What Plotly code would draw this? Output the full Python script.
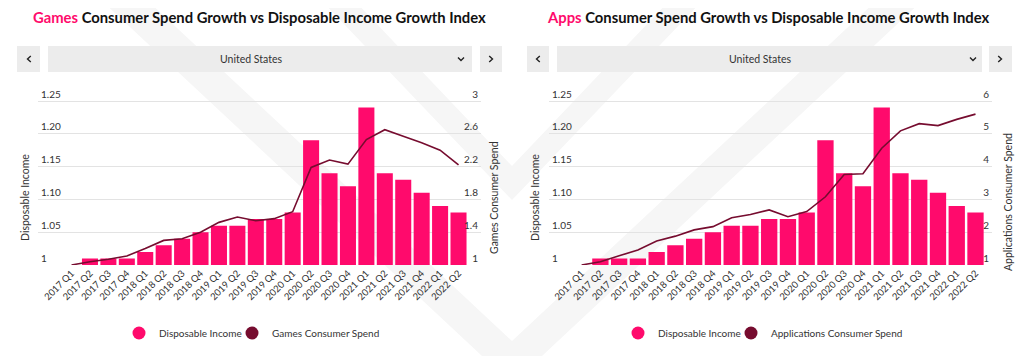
import plotly.graph_objects as go

# ---------------- data ----------------
quarters = ["2017 Q1", "2017 Q2", "2017 Q3", "2017 Q4",
            "2018 Q1", "2018 Q2", "2018 Q3", "2018 Q4",
            "2019 Q1", "2019 Q2", "2019 Q3", "2019 Q4",
            "2020 Q1", "2020 Q2", "2020 Q3", "2020 Q4",
            "2021 Q1", "2021 Q2", "2021 Q3", "2021 Q4",
            "2022 Q1", "2022 Q2"]
disposable_income = [1.00, 1.01, 1.01, 1.01, 1.02, 1.03, 1.04, 1.05, 1.06, 1.06, 1.07,
                     1.07, 1.08, 1.19, 1.14, 1.12, 1.24, 1.14, 1.13, 1.11, 1.09, 1.08]
games_spend = [1.00, 1.04, 1.07, 1.11, 1.20, 1.30, 1.32, 1.40, 1.52, 1.585, 1.54,
               1.565, 1.65, 2.19, 2.28, 2.23, 2.53, 2.65, 2.57, 2.49, 2.40, 2.22]
apps_spend = [1.00, 1.10, 1.28, 1.46, 1.73, 1.88, 2.07, 2.17, 2.44, 2.54, 2.68,
              2.47, 2.63, 3.08, 3.76, 3.78, 4.56, 5.09, 5.31, 5.25, 5.44, 5.60]

income_ticks = [1, 1.05, 1.10, 1.15, 1.20, 1.25]
income_ticktext = ["1", "1.05", "1.10", "1.15", "1.20", "1.25"]
games_ticks = [1, 1.4, 1.8, 2.2, 2.6, 3]
games_ticktext = ["1", "1.4", "1.8", "2.2", "2.6", "3"]
apps_ticks = [1, 2, 3, 4, 5, 6]
apps_ticktext = ["1", "2", "3", "4", "5", "6"]

# ---------------- style / geometry ----------------
PAGE_W, PAGE_H = 1024, 356
OFF = 8                      # default page body margin
W, H = PAGE_W - OFF, PAGE_H - OFF
PINK = "#ff0a6c"
MAROON = "#760c2f"
GRID = "#e3e3e3"
TXT = "#333333"
FONT = "Lato"
BTN = "#ececec"


def px(x):
    return (x - OFF) / W


def py(y):
    return 1 - (y - OFF) / H


PLOT_TOP, PLOT_BOT = 101, 265   # pixel rows of the top and bottom gridlines
EXTRA = 14                      # room above top gridline for its label


def ext_range(lo, hi):
    return [lo, hi + EXTRA * (hi - lo) / (PLOT_BOT - PLOT_TOP)]


fig = go.Figure()

fig.add_trace(go.Bar(x=quarters, y=disposable_income, marker=dict(color=PINK, line=dict(width=0)),
                     xaxis="x", yaxis="y", showlegend=False, name="Disposable Income"))
fig.add_trace(go.Scatter(x=quarters, y=games_spend, mode="lines", line=dict(color=MAROON, width=1.6),
                         xaxis="x", yaxis="y2", showlegend=False, name="Games Consumer Spend"))
fig.add_trace(go.Bar(x=quarters, y=disposable_income, marker=dict(color=PINK, line=dict(width=0)),
                     xaxis="x2", yaxis="y3", showlegend=False, name="Disposable Income"))
fig.add_trace(go.Scatter(x=quarters, y=apps_spend, mode="lines", line=dict(color=MAROON, width=1.6),
                         xaxis="x2", yaxis="y4", showlegend=False, name="Applications Consumer Spend"))

# legend entries with circle symbols, one small legend per entry
legend_entries = [("Disposable Income", PINK, "legend", "x", "y", 141),
                  ("Games Consumer Spend", MAROON, "legend3", "x", "y2", 254),
                  ("Disposable Income", PINK, "legend2", "x2", "y3", 640),
                  ("Applications Consumer Spend", MAROON, "legend4", "x2", "y4", 753)]
for name, color, leg, xa, ya, _ in legend_entries:
    fig.add_trace(go.Scatter(x=[None], y=[None], mode="markers", name=name,
                             marker=dict(color=color, size=13, symbol="circle"),
                             legend=leg, xaxis=xa, yaxis=ya, showlegend=True))

ydom = [py(PLOT_BOT), py(PLOT_TOP - EXTRA)]
tickfont = dict(family=FONT, size=10, color=TXT)
xcommon = dict(type="category", tickangle=-45, showgrid=False, zeroline=False, showline=False,
               ticks="", tickfont=dict(family=FONT, size=9.5, color=TXT), fixedrange=True)
ycommon = dict(showline=False, zeroline=False, ticks="", ticklabelposition="inside top",
               tickfont=tickfont, fixedrange=True)


def leg(marker_x):
    return dict(orientation="h", yanchor="middle", y=py(333), xanchor="left",
                x=px(marker_x - 22), font=dict(family=FONT, size=10, color=TXT),
                itemsizing="trace", bgcolor="rgba(0,0,0,0)", borderwidth=0)


fig.update_layout(
    width=W, height=H,
    margin=dict(l=0, r=0, t=0, b=0),
    paper_bgcolor="white", plot_bgcolor="rgba(0,0,0,0)",
    bargap=0.13,
    font=dict(family=FONT, color=TXT),
    xaxis=dict(domain=[px(38), px(481)], range=[-1.82, 22.22], anchor="y", **xcommon),
    yaxis=dict(domain=ydom, range=ext_range(1, 1.25), anchor="x", side="left",
               tickvals=income_ticks, ticktext=income_ticktext,
               showgrid=True, gridcolor=GRID, gridwidth=1, **ycommon),
    yaxis2=dict(range=ext_range(1, 3), overlaying="y", anchor="x", side="right",
                tickvals=games_ticks, ticktext=games_ticktext, showgrid=False, **ycommon),
    xaxis2=dict(domain=[px(549), px(992)], range=[-1.74, 21.88], anchor="y3", **xcommon),
    yaxis3=dict(domain=ydom, range=ext_range(1, 1.25), anchor="x2", side="left",
                tickvals=income_ticks, ticktext=income_ticktext,
                showgrid=True, gridcolor=GRID, gridwidth=1, **ycommon),
    yaxis4=dict(range=ext_range(1, 6), overlaying="y3", anchor="x2", side="right",
                tickvals=apps_ticks, ticktext=apps_ticktext, showgrid=False, **ycommon),
    legend=leg(legend_entries[0][5]),
    legend3=leg(legend_entries[1][5]),
    legend2=leg(legend_entries[2][5]),
    legend4=leg(legend_entries[3][5]),
)

shapes = []
WM = "#f6f6f6"


def poly(pts):
    return "M " + " L ".join(f"{px(x):.5f},{py(y):.5f}" for x, y in pts) + " Z"


shapes.append(dict(type="path", xref="paper", yref="paper", layer="below", line=dict(width=0),
                   fillcolor=WM, path=poly([(101, 0), (512, 384), (923, 0), (877, 0), (512, 341), (147, 0)])))
shapes.append(dict(type="path", xref="paper", yref="paper", layer="below", line=dict(width=0),
                   fillcolor=WM, path=poly([(321, 0), (512, 200), (703, 0), (670, 0), (512, 166), (354, 0)])))

for (x0, x1) in [(17, 40), (48, 472), (480, 502), (527, 549), (557, 982), (989, 1012)]:
    shapes.append(dict(type="rect", xref="paper", yref="paper", x0=px(x0), x1=px(x1),
                       y0=py(72), y1=py(46), fillcolor=BTN, line=dict(width=0), layer="below"))


def chevron(pts):
    return dict(type="path", xref="paper", yref="paper",
                path="M " + " L ".join(f"{px(x):.5f},{py(y):.5f}" for x, y in pts),
                line=dict(color="#222222", width=1.4))


for cx in (29, 538):
    shapes.append(chevron([(cx + 1.8, 56), (cx - 1.5, 59), (cx + 1.8, 62)]))
for cx in (491, 1000):
    shapes.append(chevron([(cx - 1.8, 56), (cx + 1.5, 59), (cx - 1.8, 62)]))
for cx in (461, 973):
    shapes.append(chevron([(cx - 3, 57.5), (cx, 60.5), (cx + 3, 57.5)]))

fig.update_layout(shapes=shapes)

annotations = [
    dict(x=px(259), y=py(17),
         text=f"<b><span style='color:{PINK}'>Games</span> Consumer Spend Growth vs Disposable Income Growth Index</b>",
         font=dict(family=FONT, size=14.8, color="#111111")),
    dict(x=px(768), y=py(17),
         text=f"<b><span style='color:{PINK}'>Apps</span> Consumer Spend Growth vs Disposable Income Growth Index</b>",
         font=dict(family=FONT, size=14.8, color="#111111")),
    dict(x=px(251), y=py(59), text="United States", font=dict(family=FONT, size=10.5, color=TXT)),
    dict(x=px(760), y=py(59), text="United States", font=dict(family=FONT, size=10.5, color=TXT)),
    dict(x=px(25), y=py(198), text="Disposable Income", textangle=-90,
         font=dict(family=FONT, size=10.5, color=TXT)),
    dict(x=px(494), y=py(198), text="Games Consumer Spend", textangle=-90,
         font=dict(family=FONT, size=10.5, color=TXT)),
    dict(x=px(535), y=py(198), text="Disposable Income", textangle=-90,
         font=dict(family=FONT, size=10.5, color=TXT)),
    dict(x=px(1008), y=py(202), text="Applications Consumer Spend", textangle=-90,
         font=dict(family=FONT, size=10.5, color=TXT)),
]
for a in annotations:
    a.update(xref="paper", yref="paper", showarrow=False, xanchor="center", yanchor="middle")
fig.update_layout(annotations=annotations)

fig.write_html("out.html")
